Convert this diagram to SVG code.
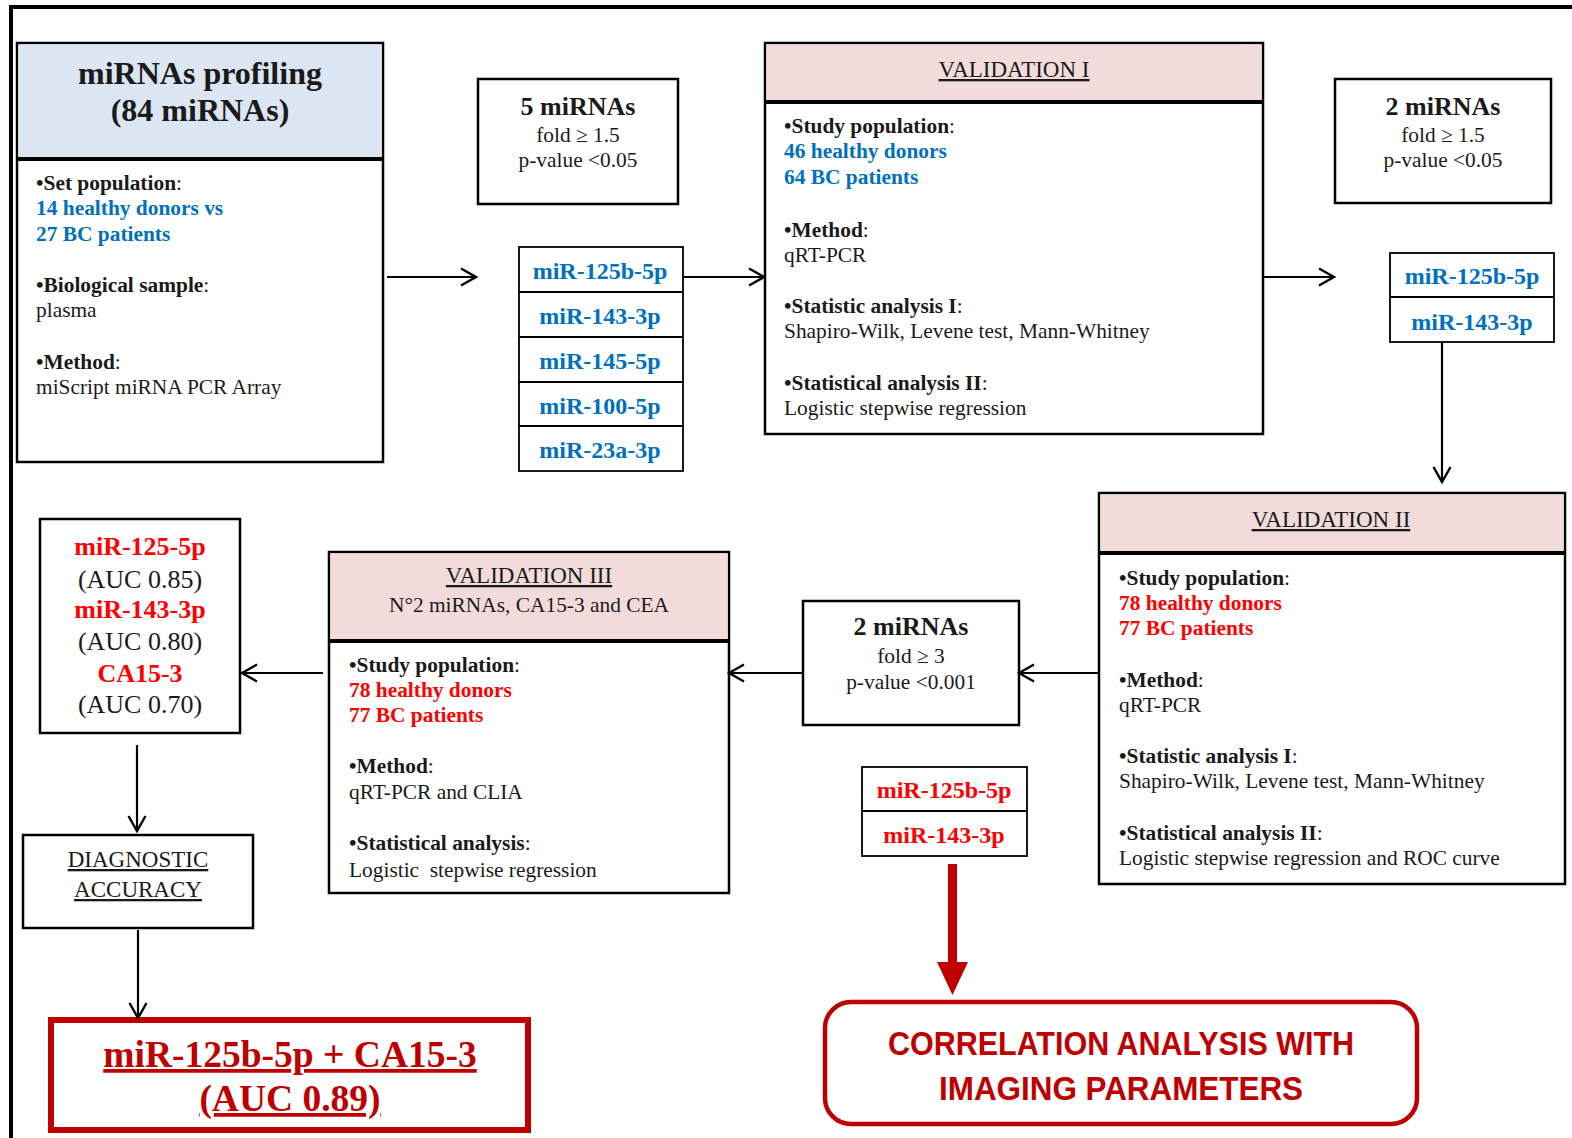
<svg xmlns="http://www.w3.org/2000/svg" width="1572" height="1138" viewBox="0 0 1572 1138">
<defs>
<style>
.t{font-family:"Liberation Serif","Times New Roman",serif;font-size:21.4px;fill:#1a1a1a}
.b{font-weight:bold}
.blue{fill:#0070c0}
.red{fill:#ff0000}
.dred{fill:#c00000}
.c{text-anchor:middle}
.u{text-decoration:underline}
.box{fill:#fff;stroke:#000;stroke-width:2.5}
.lst{fill:#fff;stroke:#000;stroke-width:1.8}
.sep{stroke:#000;stroke-width:1.8}
.div{stroke:#000;stroke-width:4}
.hb{fill:#dce6f2}
.hp{fill:#f2dcdb}
.conn{fill:none;stroke:#000;stroke-width:2.2}
.sans{font-family:"Liberation Sans",Arial,sans-serif;font-weight:bold;font-size:34px;fill:#c00000}
</style>
<marker id="arr" viewBox="0 0 20 20" refX="18" refY="10" markerWidth="20" markerHeight="20" markerUnits="userSpaceOnUse" orient="auto">
<path d="M3,1.5 L18,10 L3,18.5" fill="none" stroke="#000" stroke-width="2.4"/>
</marker>
</defs>
<rect width="1572" height="1138" fill="#fff"/>
<path d="M11,1138 V7 H1572" fill="none" stroke="#000" stroke-width="4"/>

<g id="profiling">
<rect class="box" x="17" y="43" width="366" height="419"/>
<rect class="hb" x="18.5" y="44.5" width="363" height="114"/>
<line class="div" x1="17" y1="159" x2="383" y2="159"/>
<text class="t b c" x="200" y="84" style="font-size:32px">miRNAs profiling</text>
<text class="t b c" x="200" y="121" style="font-size:32px">(84 miRNAs)</text>
<text class="t" x="36" y="190"><tspan class="b">•Set population</tspan>:</text>
<text class="t b blue" x="36" y="215">14 healthy donors vs</text>
<text class="t b blue" x="36" y="241">27 BC patients</text>
<text class="t" x="36" y="292"><tspan class="b">•Biological sample</tspan>:</text>
<text class="t" x="36" y="317">plasma</text>
<text class="t" x="36" y="369"><tspan class="b">•Method</tspan>:</text>
<text class="t" x="36" y="394">miScript miRNA PCR Array</text>
</g>

<g id="five-mirnas">
<rect class="box" x="478" y="79" width="200" height="125"/>
<text class="t b c" x="578" y="115" style="font-size:26px">5 miRNAs</text>
<text class="t c" x="578" y="142">fold ≥ 1.5</text>
<text class="t c" x="578" y="167">p-value &lt;0.05</text>
</g>

<g id="list-five">
<rect class="lst" x="519" y="247" width="164" height="224"/>
<line class="sep" x1="519" y1="292" x2="683" y2="292"/>
<line class="sep" x1="519" y1="337" x2="683" y2="337"/>
<line class="sep" x1="519" y1="382" x2="683" y2="382"/>
<line class="sep" x1="519" y1="426" x2="683" y2="426"/>
<text class="t b blue c" x="600" y="279" style="font-size:24px">miR-125b-5p</text>
<text class="t b blue c" x="600" y="324" style="font-size:24px">miR-143-3p</text>
<text class="t b blue c" x="600" y="369" style="font-size:24px">miR-145-5p</text>
<text class="t b blue c" x="600" y="414" style="font-size:24px">miR-100-5p</text>
<text class="t b blue c" x="600" y="458" style="font-size:24px">miR-23a-3p</text>
</g>

<g id="validation-1">
<rect class="box" x="765" y="43" width="498" height="391"/>
<rect class="hp" x="766.5" y="44.5" width="495" height="57"/>
<line class="div" x1="765" y1="102" x2="1263" y2="102"/>
<text class="t c u" x="1014" y="77" style="font-size:23px">VALIDATION I</text>
<text class="t" x="784" y="133"><tspan class="b">•Study population</tspan>:</text>
<text class="t b blue" x="784" y="158">46 healthy donors</text>
<text class="t b blue" x="784" y="184">64 BC patients</text>
<text class="t" x="784" y="237"><tspan class="b">•Method</tspan>:</text>
<text class="t" x="784" y="262">qRT-PCR</text>
<text class="t" x="784" y="313"><tspan class="b">•Statistic analysis I</tspan>:</text>
<text class="t" x="784" y="338">Shapiro-Wilk, Levene test, Mann-Whitney</text>
<text class="t" x="784" y="390"><tspan class="b">•Statistical analysis II</tspan>:</text>
<text class="t" x="784" y="415">Logistic stepwise regression</text>
</g>

<g id="two-mirnas-top">
<rect class="box" x="1335" y="79" width="216" height="124"/>
<text class="t b c" x="1443" y="115" style="font-size:26px">2 miRNAs</text>
<text class="t c" x="1443" y="142">fold ≥ 1.5</text>
<text class="t c" x="1443" y="167">p-value &lt;0.05</text>
</g>

<g id="list-two-blue">
<rect class="lst" x="1390" y="253" width="164" height="89"/>
<line class="sep" x1="1390" y1="297" x2="1554" y2="297"/>
<text class="t b blue c" x="1472" y="284" style="font-size:24px">miR-125b-5p</text>
<text class="t b blue c" x="1472" y="330" style="font-size:24px">miR-143-3p</text>
</g>

<g id="validation-2">
<rect class="box" x="1099" y="493" width="466" height="391"/>
<rect class="hp" x="1100.5" y="494.5" width="463" height="58"/>
<line class="div" x1="1099" y1="553" x2="1565" y2="553"/>
<text class="t c u" x="1331" y="527" style="font-size:23px">VALIDATION II</text>
<text class="t" x="1119" y="585"><tspan class="b">•Study population</tspan>:</text>
<text class="t b red" x="1119" y="610">78 healthy donors</text>
<text class="t b red" x="1119" y="635">77 BC patients</text>
<text class="t" x="1119" y="687"><tspan class="b">•Method</tspan>:</text>
<text class="t" x="1119" y="712">qRT-PCR</text>
<text class="t" x="1119" y="763"><tspan class="b">•Statistic analysis I</tspan>:</text>
<text class="t" x="1119" y="788">Shapiro-Wilk, Levene test, Mann-Whitney</text>
<text class="t" x="1119" y="840"><tspan class="b">•Statistical analysis II</tspan>:</text>
<text class="t" x="1119" y="865">Logistic stepwise regression and ROC curve</text>
</g>

<g id="two-mirnas-mid">
<rect class="box" x="803" y="601" width="216" height="124"/>
<text class="t b c" x="911" y="635" style="font-size:26px">2 miRNAs</text>
<text class="t c" x="911" y="663">fold ≥ 3</text>
<text class="t c" x="911" y="689">p-value &lt;0.001</text>
</g>

<g id="list-two-red">
<rect class="lst" x="862" y="767" width="165" height="89"/>
<line class="sep" x1="862" y1="811" x2="1027" y2="811"/>
<text class="t b red c" x="944" y="798" style="font-size:24px">miR-125b-5p</text>
<text class="t b red c" x="944" y="843" style="font-size:24px">miR-143-3p</text>
</g>

<g id="validation-3">
<rect class="box" x="329" y="552" width="400" height="341"/>
<rect class="hp" x="330.5" y="553.5" width="397" height="87"/>
<line class="div" x1="329" y1="641" x2="729" y2="641"/>
<text class="t c u" x="529" y="583" style="font-size:23px">VALIDATION III</text>
<text class="t c" x="529" y="612">N°2 miRNAs, CA15-3 and CEA</text>
<text class="t" x="349" y="672"><tspan class="b">•Study population</tspan>:</text>
<text class="t b red" x="349" y="697">78 healthy donors</text>
<text class="t b red" x="349" y="722">77 BC patients</text>
<text class="t" x="349" y="773"><tspan class="b">•Method</tspan>:</text>
<text class="t" x="349" y="799">qRT-PCR and CLIA</text>
<text class="t" x="349" y="850"><tspan class="b">•Statistical analysis</tspan>:</text>
<text class="t" x="349" y="877" xml:space="preserve">Logistic  stepwise regression</text>
</g>

<g id="auc">
<rect class="box" x="40" y="519" width="200" height="214"/>
<text class="t b red c" x="140" y="555" style="font-size:26px">miR-125-5p</text>
<text class="t c" x="140" y="588" style="font-size:26px">(AUC 0.85)</text>
<text class="t b red c" x="140" y="618" style="font-size:26px">miR-143-3p</text>
<text class="t c" x="140" y="650" style="font-size:26px">(AUC 0.80)</text>
<text class="t b red c" x="140" y="682" style="font-size:26px">CA15-3</text>
<text class="t c" x="140" y="713" style="font-size:26px">(AUC 0.70)</text>
</g>

<g id="diagnostic">
<rect class="box" x="23" y="835" width="230" height="93"/>
<text class="t c u" x="138" y="867" style="font-size:23px">DIAGNOSTIC</text>
<text class="t c u" x="138" y="897" style="font-size:23px">ACCURACY</text>
</g>

<g id="final">
<rect x="51" y="1020" width="477" height="110" fill="#fff" stroke="#c00000" stroke-width="6"/>
<text class="t b dred c u" x="290" y="1067" style="font-size:37.5px">miR-125b-5p + CA15-3</text>
<text class="t b dred c u" x="290" y="1111" style="font-size:37.5px">(AUC 0.89)</text>
</g>

<g id="correlation">
<rect x="825" y="1002" width="592" height="122" rx="26" fill="#fff" stroke="#c00000" stroke-width="4.5"/>
<text class="sans c" x="1121" y="1055" textLength="466" lengthAdjust="spacingAndGlyphs">CORRELATION ANALYSIS WITH</text>
<text class="sans c" x="1121" y="1100" textLength="364" lengthAdjust="spacingAndGlyphs">IMAGING PARAMETERS</text>
</g>

<g id="connectors">
<line class="conn" x1="387" y1="277" x2="476" y2="277" marker-end="url(#arr)"/>
<line class="conn" x1="683" y1="277" x2="764" y2="277" marker-end="url(#arr)"/>
<line class="conn" x1="1263" y1="277" x2="1334" y2="277" marker-end="url(#arr)"/>
<line class="conn" x1="1442" y1="342" x2="1442" y2="482" marker-end="url(#arr)"/>
<line class="conn" x1="1099" y1="673" x2="1019" y2="673" marker-end="url(#arr)"/>
<line class="conn" x1="803" y1="673" x2="729" y2="673" marker-end="url(#arr)"/>
<line class="conn" x1="323" y1="673" x2="242" y2="673" marker-end="url(#arr)"/>
<line class="conn" x1="137" y1="745" x2="137" y2="831" marker-end="url(#arr)"/>
<line class="conn" x1="138" y1="930" x2="138" y2="1018" marker-end="url(#arr)"/>
<path d="M948,864 H957 V962 H968 L952.5,995 L937,962 H948 Z" fill="#c00000"/>
</g>
</svg>
